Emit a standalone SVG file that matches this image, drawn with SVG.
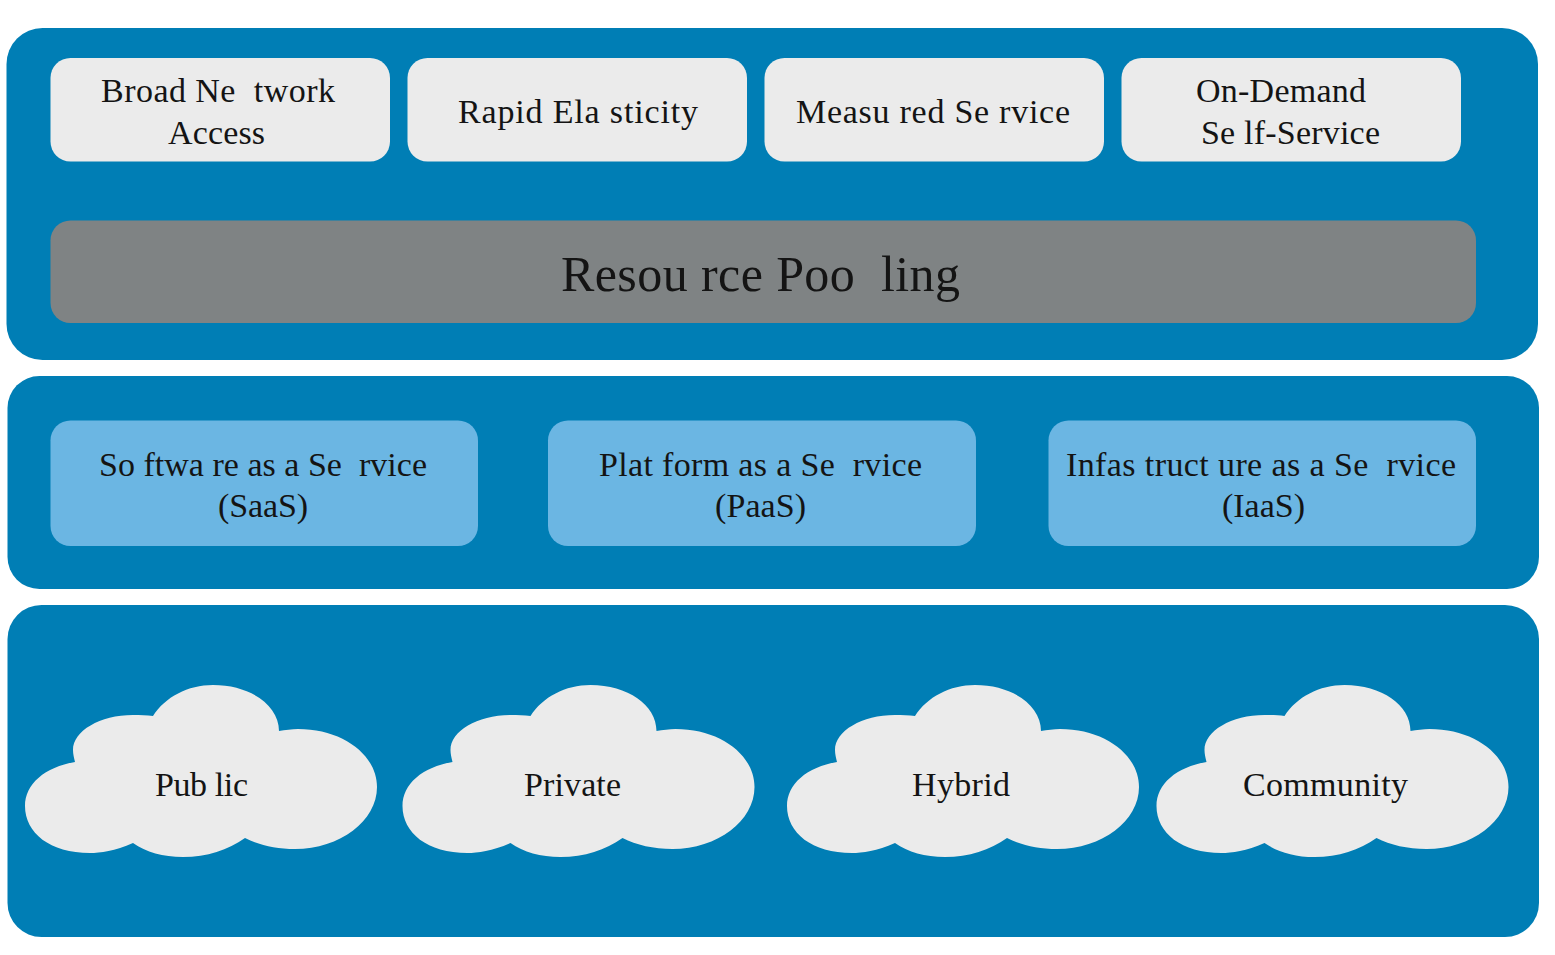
<svg xmlns="http://www.w3.org/2000/svg" width="1555" height="955" viewBox="0 0 1555 955">
<defs>
<style>
.p{fill:#007eb5}
.g{fill:#ebebeb}
.b{fill:#6bb6e3}
text{font-family:"Liberation Serif","Times New Roman",serif;fill:#141414;text-anchor:middle;font-size:34px;white-space:pre}
</style>
<path id="cloud" d="M153 716C165 697 188 685 213 685C250 685 279 705 279 731C285 730 292 729 298 729C343 729 377 755 377 787C377 821 340 849 295 849C276 849 259 845 245 838C228 850 207 857 183 857C163 857 146 852 133 843C115 851 100 853 90 853C50 853 25 833 25 806C25 784 45 767 75 762C74 758 73 754 73 750C73 731 100 715 133 715C140 715 147 715 153 716Z"/>
</defs>
<rect width="1555" height="955" fill="#fff"/>
<g id="panel-top"><rect class="p" x="6.500" y="28" width="1531.500" height="332" rx="36"/></g>
<g id="panel-mid"><rect class="p" x="7.500" y="376" width="1531.500" height="213" rx="32"/></g>
<g id="panel-bottom"><rect class="p" x="7.500" y="605" width="1531.500" height="332" rx="34"/></g>
<g id="broad"><rect class="g" x="50.500" y="58" width="339.500" height="103.500" rx="20"/><text x="218" y="101.500" textLength="234">Broad Ne  twork</text><text x="216.500" y="143.500" textLength="97">Access</text></g>
<g id="rapid"><rect class="g" x="407.500" y="58" width="339.500" height="103.500" rx="20"/><text x="578" y="122.500" textLength="240">Rapid Ela sticity</text></g>
<g id="measured"><rect class="g" x="764.500" y="58" width="339.500" height="103.500" rx="20"/><text x="933" y="122.500" textLength="274">Measu red Se rvice</text></g>
<g id="ondemand"><rect class="g" x="1121.500" y="58" width="339.500" height="103.500" rx="20"/><text x="1281" y="101.500" textLength="170">On-Demand</text><text x="1290.500" y="143.500" textLength="179">Se lf-Service</text></g>
<g id="pool"><rect x="50.500" y="220.500" width="1425.500" height="102.500" rx="20" fill="#7f8384"/><text x="760.500" y="291" style="font-size:50px" textLength="399">Resou rce Poo  ling</text></g>
<g id="saas"><rect class="b" x="50.500" y="420.500" width="427.500" height="125.500" rx="20"/><text x="263" y="475.500" textLength="328">So ftwa re as a Se  rvice</text><text x="263" y="516.500" textLength="90">(SaaS)</text></g>
<g id="paas"><rect class="b" x="548" y="420.500" width="428" height="125.500" rx="20"/><text x="760.500" y="475.500" textLength="323">Plat form as a Se  rvice</text><text x="760.500" y="516.500" textLength="91">(PaaS)</text></g>
<g id="iaas"><rect class="b" x="1048.500" y="420.500" width="427.500" height="125.500" rx="20"/><text x="1261" y="475.500" textLength="390">Infas truct ure as a Se  rvice</text><text x="1263.500" y="516.500" textLength="83">(IaaS)</text></g>
<g id="public"><use href="#cloud" class="g"/><text x="201.500" y="795.500" textLength="93">Pub lic</text></g>
<g id="private"><use href="#cloud" class="g" x="377.500"/><text x="572.500" y="795.500" textLength="97">Private</text></g>
<g id="hybrid"><use href="#cloud" class="g" x="762"/><text x="961" y="795.500" textLength="98">Hybrid</text></g>
<g id="community"><use href="#cloud" class="g" x="1131.500"/><text x="1325.500" y="795.500" textLength="165">Community</text></g>
<g id="connectors"></g>
</svg>
